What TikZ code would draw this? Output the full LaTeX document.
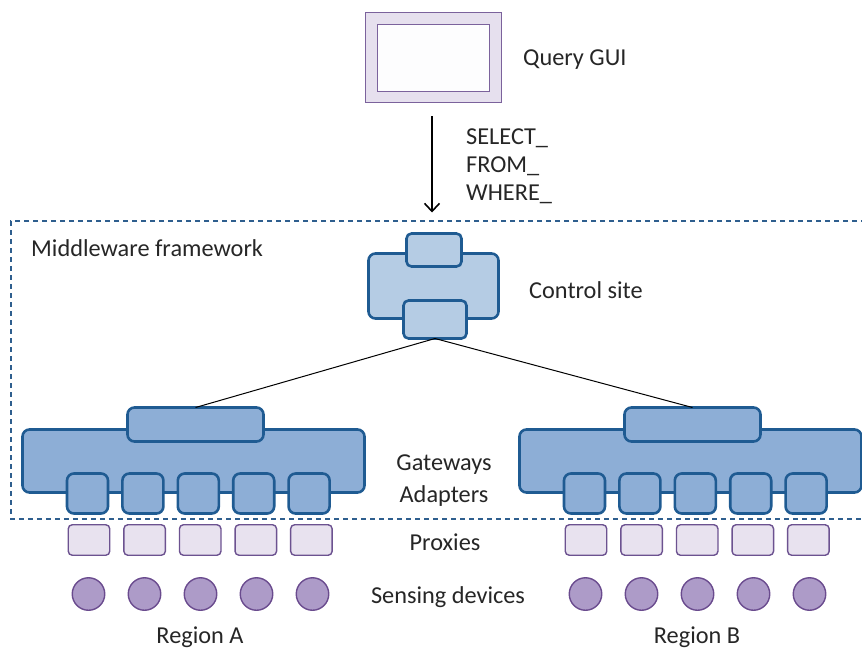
\documentclass[tikz,border=0pt]{standalone}
\usepackage{fontspec}
\setmainfont{Carlito}
\usetikzlibrary{arrows.meta, positioning}
\definecolor{gwfill}{HTML}{8DAED6}
\definecolor{csfill}{HTML}{B5CCE4}
\definecolor{gwline}{HTML}{1F5B92}
\definecolor{pxfill}{HTML}{E8E2EF}
\definecolor{pxline}{HTML}{6C5290}
\definecolor{sdfill}{HTML}{AD9BC8}
\definecolor{sdline}{HTML}{6A4B8E}
\definecolor{guifill}{HTML}{E6E0EE}
\definecolor{guiline}{HTML}{7B629C}
\definecolor{frameline}{HTML}{2E5E8E}
\definecolor{txt}{HTML}{262626}
\tikzset{
    txtlbl/.style={text=txt, font=\fontsize{24.3}{27.8}\selectfont, inner sep=0pt},
    gwbox/.style={draw=gwline, fill=gwfill, line width=2.6pt, rounded corners=7pt, inner sep=0pt, outer sep=0pt},
    csbox/.style={gwbox, fill=csfill},
    guibox/.style={draw=guiline, fill=guifill, line width=1.4pt, inner sep=0pt, outer sep=0pt},
    pxbox/.style={draw=pxline, fill=pxfill, line width=1.4pt, rounded corners=4pt, minimum width=41.5pt, minimum height=30.5pt, inner sep=0pt},
    sdev/.style={circle, draw=sdline, fill=sdfill, line width=1.4pt, minimum size=32.5pt, inner sep=0pt},
    wire/.style={black, line width=1pt},
}
\begin{document}
\begin{tikzpicture}[x=1pt,y=-1pt]
    \useasboundingbox (0,0) rectangle (862,648);
    % middleware frame, open on the right
    \draw[frameline, line width=1.2pt, dash pattern=on 5pt off 4pt] (866,221) -- (11,221) -- (11,519) -- (866,519);
    % query gui
    \node[guibox, minimum width=135.5pt, minimum height=89.5pt] (gui) at (433.5,57.5) {};
    \node[guibox, fill=white!92!guifill, minimum width=111.5pt, minimum height=66.5pt] (screen) at (433.5,58) {};
    \node[txtlbl, anchor=west] (guitxt) at (523,60) {Query GUI};
    % control site
    \node[csbox, minimum width=130pt, minimum height=65pt] (cs) at (433.5,286) {};
    \node[csbox, rounded corners=5pt, minimum width=55pt, minimum height=33pt] (cs-top) at (434,250) {};
    \node[csbox, rounded corners=5pt, minimum width=63pt, minimum height=38pt] (cs-bot) at (435,319.5) {};
    \node[txtlbl, anchor=west] (cstxt) at (529,290) {Control site};
    \draw[line width=1.6pt, -{Straight Barb[length=8pt,width=15pt]}, shorten <=14pt, shorten >=21pt] (gui.south -| 432,0) -- (cs-top.north -| 432,0);
    \node[txtlbl, anchor=west, align=left] (query) at (466,166) {SELECT\_\\FROM\_\\WHERE\_};
    \node[txtlbl, anchor=west] (mwtxt) at (31,248) {Middleware framework};
    % regions
    \foreach \r/\dx in {A/0,B/497}{
    \begin{scope}[xshift=\dx]
    \node[gwbox, minimum width=342pt, minimum height=63pt] (g\r-main) at (193.5,461) {};
    \node[gwbox, minimum width=136pt, minimum height=34pt] (g\r-top) at (195.5,424.5) {};
    \foreach \i in {0,...,4}{
    \node[gwbox, minimum width=41pt, minimum height=40pt] (g\r-ad\i) at ({87.5+55.4*\i},493.5) {};
    \node[pxbox] (p\r-\i) at ({89+55.6*\i},540) {};
    \node[sdev] (s\r-\i) at ({88.5+56*\i},594) {};
    }
    \node[txtlbl] (reg\r) at (200,637) {Region \r};
    \end{scope}
    }
    \draw[wire] (cs-bot.south) -- (gA-top.north);
    \draw[wire] (cs-bot.south) -- (gB-top.north);
    % layer names
    \node[txtlbl] (gwtxt) at (444,465) {Gateways};
    \node[txtlbl] (adtxt) at (444,496) {Adapters};
    \node[txtlbl] (pxtxt) at (445,542) {Proxies};
    \node[txtlbl] (sdtxt) at (448,597) {Sensing devices};
\end{tikzpicture}
\end{document}
